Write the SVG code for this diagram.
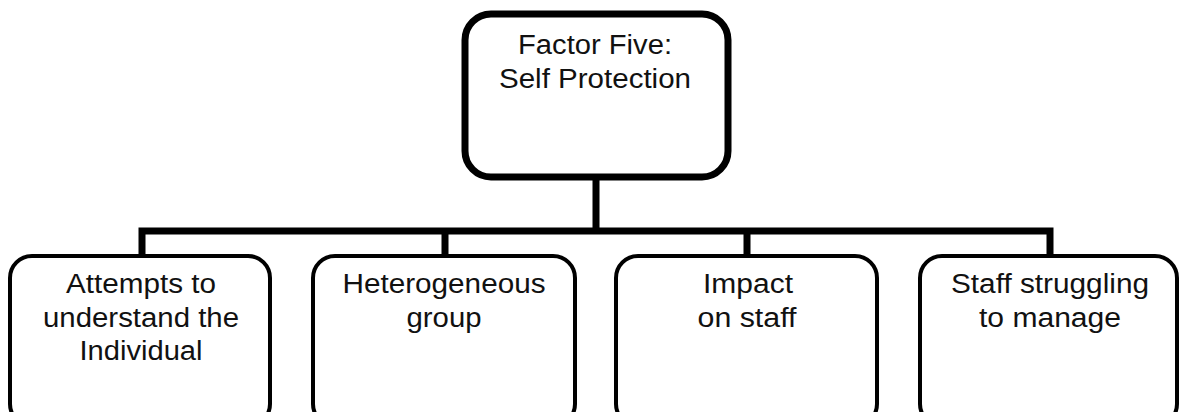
<svg xmlns="http://www.w3.org/2000/svg" width="1179" height="412" viewBox="0 0 1179 412">
<style>
.top{fill:#fff;stroke:#000;stroke-width:7}
.box{fill:#fff;stroke:#000;stroke-width:4}
.con{fill:none;stroke:#000;stroke-width:7;stroke-linecap:square}
text{font-family:"Liberation Sans",Arial,sans-serif;font-size:27px;fill:#111;text-anchor:middle}
</style>
<rect width="1179" height="412" fill="#fff"/>
<g id="connectors">
<path class="con" d="M596 178V231M142 231H1050M142 231V256M445 231V256M747 231V256M1050 231V256"/>
</g>
<g id="node-top">
<rect class="top" x="465" y="14" width="263" height="163" rx="26"/>
<text x="595" y="54" textLength="154" lengthAdjust="spacingAndGlyphs">Factor Five:</text>
<text x="595" y="88" textLength="192" lengthAdjust="spacingAndGlyphs">Self Protection</text>
</g>
<g id="node-1">
<rect class="box" x="10" y="256" width="260" height="170" rx="22"/>
<text x="141" y="293" textLength="150" lengthAdjust="spacingAndGlyphs">Attempts to</text>
<text x="141" y="327" textLength="196" lengthAdjust="spacingAndGlyphs">understand the</text>
<text x="141" y="360" textLength="123" lengthAdjust="spacingAndGlyphs">Individual</text>
</g>
<g id="node-2">
<rect class="box" x="313" y="256" width="262" height="170" rx="22"/>
<text x="444" y="293" textLength="203" lengthAdjust="spacingAndGlyphs">Heterogeneous</text>
<text x="444" y="327" textLength="75" lengthAdjust="spacingAndGlyphs">group</text>
</g>
<g id="node-3">
<rect class="box" x="616" y="256" width="261" height="170" rx="22"/>
<text x="748" y="293" textLength="90" lengthAdjust="spacingAndGlyphs">Impact</text>
<text x="747" y="327" textLength="99" lengthAdjust="spacingAndGlyphs">on staff</text>
</g>
<g id="node-4">
<rect class="box" x="920" y="256" width="257" height="170" rx="22"/>
<text x="1050" y="293" textLength="198" lengthAdjust="spacingAndGlyphs">Staff struggling</text>
<text x="1050" y="327" textLength="142" lengthAdjust="spacingAndGlyphs">to manage</text>
</g>
</svg>
